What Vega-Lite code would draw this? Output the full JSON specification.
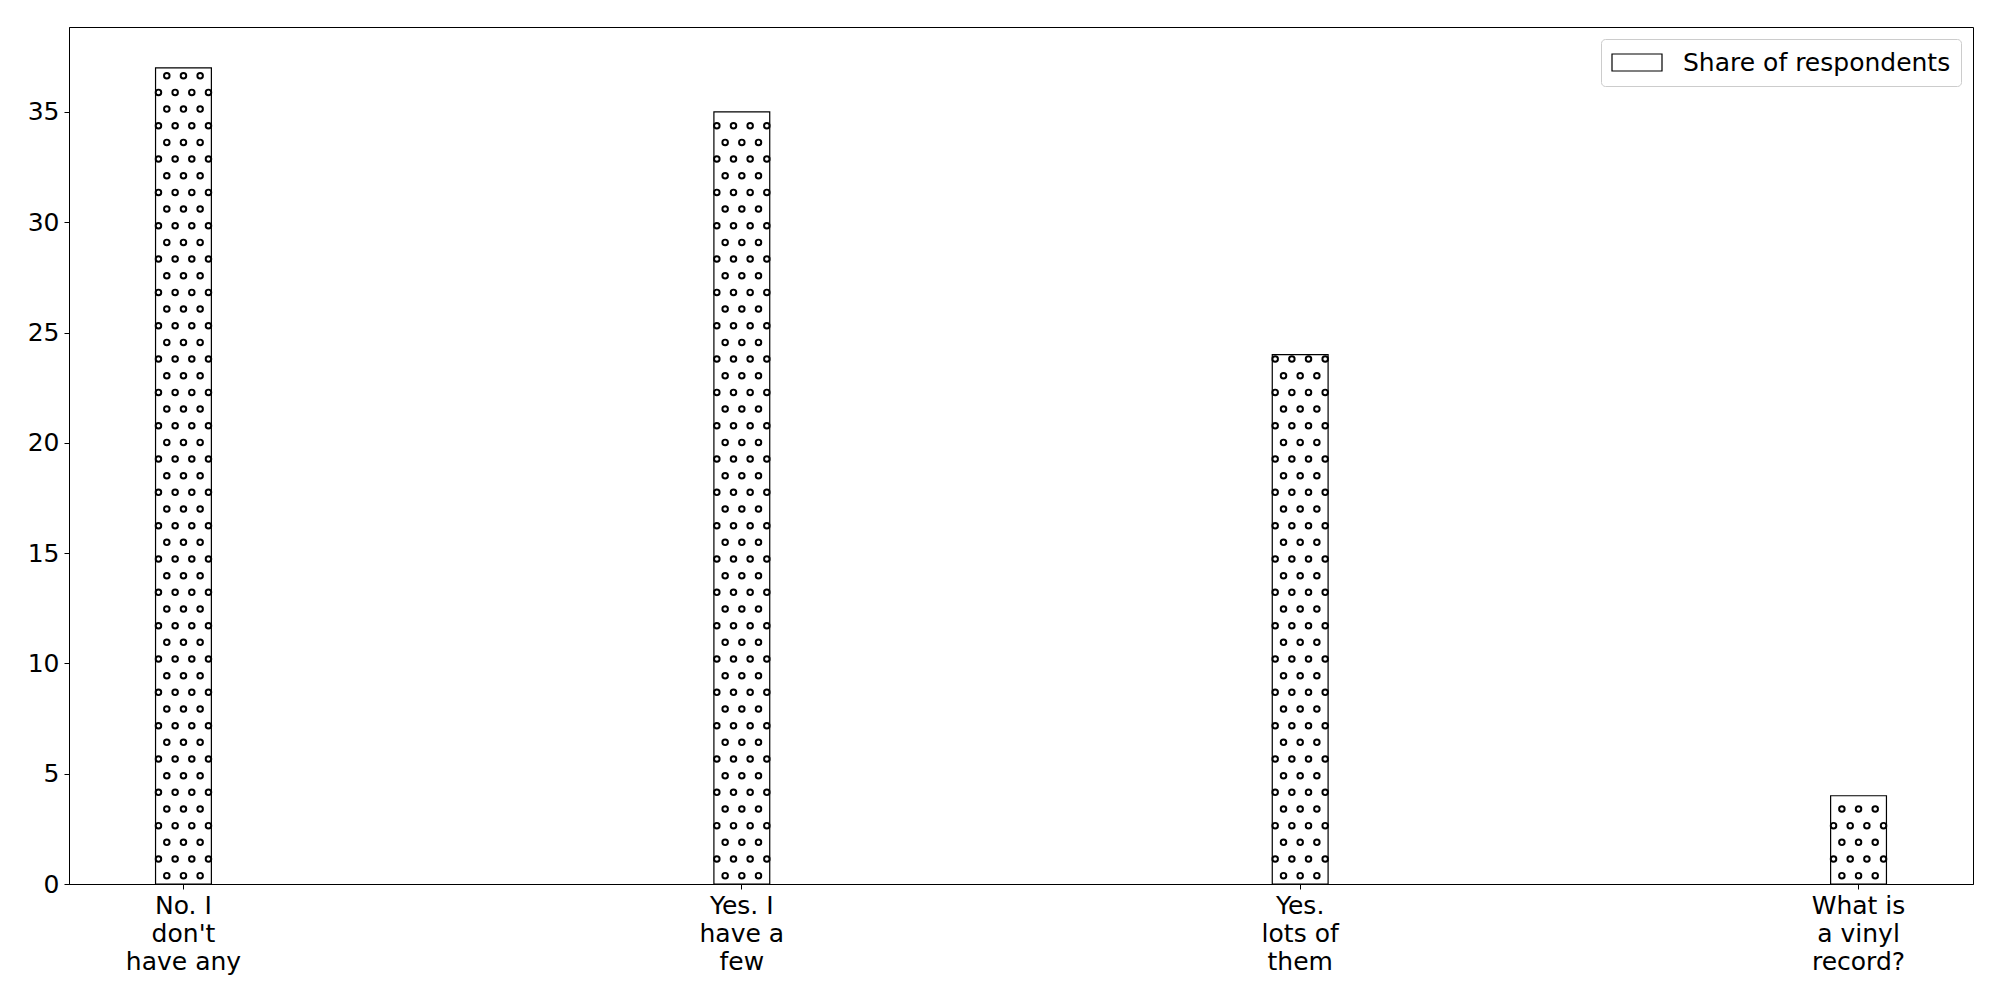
{
  "$schema": "https://vega.github.io/schema/vega-lite/v6.json",
  "autosize": "none",
  "width": 1904,
  "height": 857,
  "padding": {"left": 69, "top": 27, "right": 27, "bottom": 116},
  "background": "white",
  "config": {
    "font": "DejaVu Sans",
    "view": {"stroke": "black", "strokeWidth": 1},
    "axis": {"grid": false, "domainColor": "black", "tickColor": "black", "labelColor": "black", "labelFontSize": 25, "tickSize": 5, "title": null}
  },
  "data": {"values": [
    {"answer": "No. I\ndon't\nhave any", "value": 37},
    {"answer": "Yes. I\nhave a\nfew", "value": 35},
    {"answer": "Yes.\nlots of\nthem", "value": 24},
    {"answer": "What is\na vinyl\nrecord?", "value": 4}
  ]},
  "encoding": {
    "x": {"field": "answer", "type": "nominal", "sort": null,
      "scale": {"paddingInner": 0.9, "paddingOuter": 0.155},
      "axis": {"labelAngle": 0, "labelExpr": "split(datum.label, '\\n')", "labelFontSize": 25, "labelLineHeight": 28, "labelPadding": 4, "labelBaseline": "top"}},
    "y": {"field": "value", "type": "quantitative", "scale": {"domain": [0, 38.85], "nice": false},
      "axis": {"values": [0, 5, 10, 15, 20, 25, 30, 35], "labelFontSize": 25, "labelPadding": 5}}
  },
  "layer": [
    {"mark": {"type": "bar", "stroke": "black", "strokeWidth": 1.2, "opacity": 1},
     "encoding": {"fill": {"datum": "Share of respondents", "type": "nominal",
        "scale": {"range": ["white"]},
        "legend": {"title": null, "orient": "top-right", "offset": 12, "symbolType": "M-2,-0.68L2,-0.68L2,0.68L-2,0.68Z", "symbolSize": 625, "symbolOffset": 12.5, "symbolStrokeColor": "black", "symbolStrokeWidth": 1.2, "symbolFillColor": "white", "labelFontSize": 25, "labelLimit": 0, "labelOffset": 32.5, "labelColor": "black", "fillColor": "rgba(255,255,255,0.8)", "strokeColor": "#cccccc", "cornerRadius": 4, "padding": 10}}}},
    {"mark": {"type": "rule", "color": "black", "strokeWidth": 7.5, "strokeCap": "round", "strokeDash": [0, 33.33], "strokeDashOffset": 8.33, "xOffset": -25},
     "encoding": {"y": {"datum": 0, "type": "quantitative"}, "y2": {"field": "value"}}},
    {"mark": {"type": "rule", "color": "black", "strokeWidth": 7.5, "strokeCap": "round", "strokeDash": [0, 33.33], "strokeDashOffset": 8.33, "xOffset": -8.33},
     "encoding": {"y": {"datum": 0, "type": "quantitative"}, "y2": {"field": "value"}}},
    {"mark": {"type": "rule", "color": "black", "strokeWidth": 7.5, "strokeCap": "round", "strokeDash": [0, 33.33], "strokeDashOffset": 8.33, "xOffset": 8.33},
     "encoding": {"y": {"datum": 0, "type": "quantitative"}, "y2": {"field": "value"}}},
    {"mark": {"type": "rule", "color": "black", "strokeWidth": 7.5, "strokeCap": "round", "strokeDash": [0, 33.33], "strokeDashOffset": 8.33, "xOffset": 25},
     "encoding": {"y": {"datum": 0, "type": "quantitative"}, "y2": {"field": "value"}}},
    {"mark": {"type": "rule", "color": "black", "strokeWidth": 7.5, "strokeCap": "round", "strokeDash": [0, 33.33], "strokeDashOffset": 25, "xOffset": -16.67},
     "encoding": {"y": {"datum": 0, "type": "quantitative"}, "y2": {"field": "value"}}},
    {"mark": {"type": "rule", "color": "black", "strokeWidth": 7.5, "strokeCap": "round", "strokeDash": [0, 33.33], "strokeDashOffset": 25, "xOffset": 0},
     "encoding": {"y": {"datum": 0, "type": "quantitative"}, "y2": {"field": "value"}}},
    {"mark": {"type": "rule", "color": "black", "strokeWidth": 7.5, "strokeCap": "round", "strokeDash": [0, 33.33], "strokeDashOffset": 25, "xOffset": 16.67},
     "encoding": {"y": {"datum": 0, "type": "quantitative"}, "y2": {"field": "value"}}},
    {"mark": {"type": "rule", "color": "white", "strokeWidth": 3.6, "strokeCap": "round", "strokeDash": [0, 33.33], "strokeDashOffset": 8.33, "xOffset": -25},
     "encoding": {"y": {"datum": 0, "type": "quantitative"}, "y2": {"field": "value"}}},
    {"mark": {"type": "rule", "color": "white", "strokeWidth": 3.6, "strokeCap": "round", "strokeDash": [0, 33.33], "strokeDashOffset": 8.33, "xOffset": -8.33},
     "encoding": {"y": {"datum": 0, "type": "quantitative"}, "y2": {"field": "value"}}},
    {"mark": {"type": "rule", "color": "white", "strokeWidth": 3.6, "strokeCap": "round", "strokeDash": [0, 33.33], "strokeDashOffset": 8.33, "xOffset": 8.33},
     "encoding": {"y": {"datum": 0, "type": "quantitative"}, "y2": {"field": "value"}}},
    {"mark": {"type": "rule", "color": "white", "strokeWidth": 3.6, "strokeCap": "round", "strokeDash": [0, 33.33], "strokeDashOffset": 8.33, "xOffset": 25},
     "encoding": {"y": {"datum": 0, "type": "quantitative"}, "y2": {"field": "value"}}},
    {"mark": {"type": "rule", "color": "white", "strokeWidth": 3.6, "strokeCap": "round", "strokeDash": [0, 33.33], "strokeDashOffset": 25, "xOffset": -16.67},
     "encoding": {"y": {"datum": 0, "type": "quantitative"}, "y2": {"field": "value"}}},
    {"mark": {"type": "rule", "color": "white", "strokeWidth": 3.6, "strokeCap": "round", "strokeDash": [0, 33.33], "strokeDashOffset": 25, "xOffset": 0},
     "encoding": {"y": {"datum": 0, "type": "quantitative"}, "y2": {"field": "value"}}},
    {"mark": {"type": "rule", "color": "white", "strokeWidth": 3.6, "strokeCap": "round", "strokeDash": [0, 33.33], "strokeDashOffset": 25, "xOffset": 16.67},
     "encoding": {"y": {"datum": 0, "type": "quantitative"}, "y2": {"field": "value"}}}
  ]
}
